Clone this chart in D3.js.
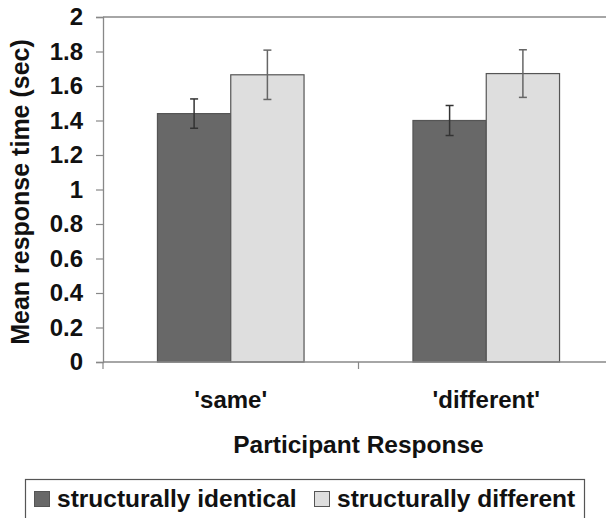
<!DOCTYPE html>
<html><head><meta charset="utf-8">
<script src="https://cdn.jsdelivr.net/npm/d3@7"></script>
<style>body{margin:0;background:#fff}svg{display:block}text{font-family:"Liberation Sans",Arial,sans-serif;font-weight:bold;fill:#111}</style>
</head><body>
<script>
const categories = ["'same'", "'different'"];
const seriesNames = ["structurally identical", "structurally different"];
const identicalMeans = [1.44, 1.40];
const identicalErr = [0.085, 0.087];
const differentMeans = [1.665, 1.672];
const differentErr = [0.143, 0.138];
const yTicks = [0, 0.2, 0.4, 0.6, 0.8, 1, 1.2, 1.4, 1.6, 1.8, 2];
const colors = ["#686868", "#dedede"];

(function () {
const W = 606, H = 518;
const svg = d3.select("body").append("svg").attr("width", W).attr("height", H);
const pLeft = 103, pRight = 614, pTop = 17, pBottom = 362;

const x = d3.scaleBand().domain(categories).range([pLeft, pRight]).paddingInner(0).paddingOuter(0);
const inner = d3.scaleBand().domain([0, 1]).range([0, x.bandwidth()]).paddingInner(0).paddingOuter(0.743);
const y = d3.scaleLinear().domain([0, 2]).range([pBottom, pTop]);

svg.append("line").attr("x1", pLeft).attr("x2", pRight).attr("y1", y(2)).attr("y2", y(2))
  .attr("stroke", "#888").attr("stroke-width", 1.3);

const data = [];
categories.forEach((c, i) => {
  data.push({c, s: 0, v: identicalMeans[i], e: identicalErr[i]});
  data.push({c, s: 1, v: differentMeans[i], e: differentErr[i]});
});

svg.selectAll("rect.bar").data(data).join("rect").attr("class", "bar")
  .attr("x", d => x(d.c) + inner(d.s)).attr("width", inner.bandwidth())
  .attr("y", d => y(d.v)).attr("height", d => y(0) - y(d.v))
  .attr("fill", d => colors[d.s]).attr("stroke", "#555").attr("stroke-width", 1.2);

const eb = svg.selectAll("g.err").data(data).join("g").attr("class", "err");
const cx = d => x(d.c) + inner(d.s) + inner.bandwidth() / 2;
eb.append("line").attr("x1", cx).attr("x2", cx).attr("y1", d => y(d.v + d.e)).attr("y2", d => y(d.v - d.e))
  .attr("stroke", d => d.s ? "#666" : "#333").attr("stroke-width", 1.5);
[1, -1].forEach(sgn => {
  eb.append("line").attr("x1", d => cx(d) - 4).attr("x2", d => cx(d) + 4)
    .attr("y1", d => y(d.v + sgn * d.e)).attr("y2", d => y(d.v + sgn * d.e))
    .attr("stroke", d => d.s ? "#666" : "#333").attr("stroke-width", 1.5);
});

const yAxis = d3.axisLeft(y).tickValues(yTicks).tickSize(7).tickPadding(13).tickFormat(d3.format("~g"));
const gy = svg.append("g").attr("transform", `translate(${pLeft},0)`).call(yAxis);
gy.select(".domain").attr("stroke", "#888").attr("stroke-width", 1.3);
gy.selectAll(".tick line").attr("stroke", "#888").attr("stroke-width", 1.2);
gy.selectAll(".tick text").style("font-size", "24px").style("font-family", "Liberation Sans, Arial, sans-serif").style("font-weight", "bold").attr("fill", "#111");

const gx = svg.append("g").attr("transform", `translate(0,${pBottom})`);
gx.append("line").attr("x1", pLeft).attr("x2", pRight).attr("stroke", "#888").attr("stroke-width", 1.3);
const sepTicks = [pLeft, x(categories[1])];
gx.selectAll("line.sep").data(sepTicks).join("line").attr("class", "sep")
  .attr("x1", d => d).attr("x2", d => d).attr("y1", 0).attr("y2", 7).attr("stroke", "#888").attr("stroke-width", 1.2);

svg.selectAll("text.cat").data(categories).join("text").attr("class", "cat")
  .attr("x", d => x(d) + x.bandwidth() / 2).attr("y", 408).attr("text-anchor", "middle").style("font-size", "24px").text(d => d);

svg.append("text").attr("x", (pLeft + pRight) / 2).attr("y", 453).attr("text-anchor", "middle").style("font-size", "24.5px").text("Participant Response");

svg.append("text").attr("transform", `translate(29,192) rotate(-90)`).attr("text-anchor", "middle")
  .style("font-size", "25px").text("Mean response time (sec)");

svg.append("rect").attr("x", 25.5).attr("y", 479.5).attr("width", 559).attr("height", 45)
  .attr("fill", "#fff").attr("stroke", "#555").attr("stroke-width", 1.2);
const legX = [34, 314];
const lg = svg.selectAll("g.leg").data(seriesNames).join("g").attr("class", "leg");
lg.append("rect").attr("x", (d, i) => legX[i] + 0.5).attr("y", 491.5).attr("width", 15).attr("height", 15)
  .attr("fill", (d, i) => colors[i]).attr("stroke", "#555").attr("stroke-width", 1);
lg.append("text").attr("x", (d, i) => legX[i] + 23).attr("y", 507).style("font-size", "24.5px").text(d => d);
})();
</script>
</body></html>
